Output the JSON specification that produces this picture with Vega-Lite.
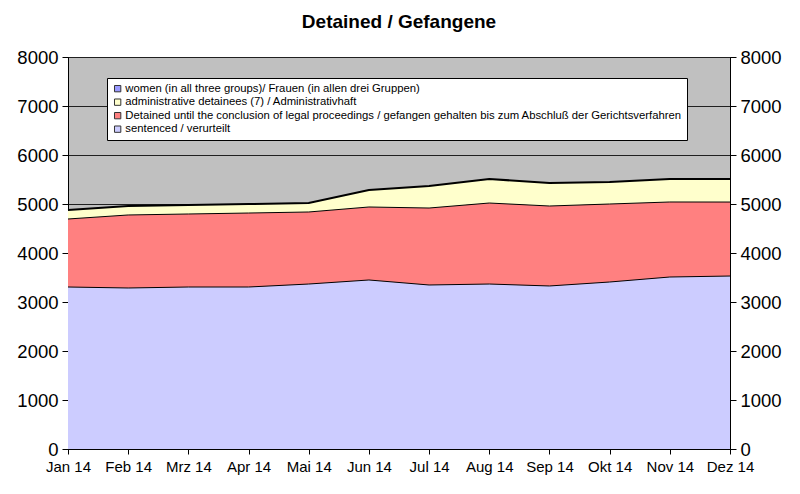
{
  "$schema": "https://vega.github.io/schema/vega-lite/v6.json",
  "autosize": {"type": "none"},
  "padding": {"left": 68, "top": 57, "right": 70, "bottom": 45},
  "width": 662,
  "height": 392,
  "background": "white",
  "config": {
    "font": "Liberation Sans",
    "view": {"fill": "#C0C0C0", "stroke": "#000000", "strokeWidth": 1}
  },
  "title": {
    "text": "Detained / Gefangene",
    "fontSize": 19,
    "fontWeight": "bold",
    "font": "Liberation Sans",
    "color": "#000000",
    "offset": 16
  },
  "data": {
    "values": [
      {"month": "Jan 14", "series": "sentenced / verurteilt", "k": 1, "v": 3306},
      {"month": "Feb 14", "series": "sentenced / verurteilt", "k": 1, "v": 3286},
      {"month": "Mrz 14", "series": "sentenced / verurteilt", "k": 1, "v": 3306},
      {"month": "Apr 14", "series": "sentenced / verurteilt", "k": 1, "v": 3306},
      {"month": "Mai 14", "series": "sentenced / verurteilt", "k": 1, "v": 3367},
      {"month": "Jun 14", "series": "sentenced / verurteilt", "k": 1, "v": 3449},
      {"month": "Jul 14", "series": "sentenced / verurteilt", "k": 1, "v": 3347},
      {"month": "Aug 14", "series": "sentenced / verurteilt", "k": 1, "v": 3367},
      {"month": "Sep 14", "series": "sentenced / verurteilt", "k": 1, "v": 3327},
      {"month": "Okt 14", "series": "sentenced / verurteilt", "k": 1, "v": 3408},
      {"month": "Nov 14", "series": "sentenced / verurteilt", "k": 1, "v": 3510},
      {"month": "Dez 14", "series": "sentenced / verurteilt", "k": 1, "v": 3530},
      {"month": "Jan 14", "series": "Detained until the conclusion of legal proceedings / gefangen gehalten bis zum Abschluß der Gerichtsverfahren", "k": 2, "v": 1388},
      {"month": "Feb 14", "series": "Detained until the conclusion of legal proceedings / gefangen gehalten bis zum Abschluß der Gerichtsverfahren", "k": 2, "v": 1490},
      {"month": "Mrz 14", "series": "Detained until the conclusion of legal proceedings / gefangen gehalten bis zum Abschluß der Gerichtsverfahren", "k": 2, "v": 1490},
      {"month": "Apr 14", "series": "Detained until the conclusion of legal proceedings / gefangen gehalten bis zum Abschluß der Gerichtsverfahren", "k": 2, "v": 1510},
      {"month": "Mai 14", "series": "Detained until the conclusion of legal proceedings / gefangen gehalten bis zum Abschluß der Gerichtsverfahren", "k": 2, "v": 1470},
      {"month": "Jun 14", "series": "Detained until the conclusion of legal proceedings / gefangen gehalten bis zum Abschluß der Gerichtsverfahren", "k": 2, "v": 1490},
      {"month": "Jul 14", "series": "Detained until the conclusion of legal proceedings / gefangen gehalten bis zum Abschluß der Gerichtsverfahren", "k": 2, "v": 1571},
      {"month": "Aug 14", "series": "Detained until the conclusion of legal proceedings / gefangen gehalten bis zum Abschluß der Gerichtsverfahren", "k": 2, "v": 1653},
      {"month": "Sep 14", "series": "Detained until the conclusion of legal proceedings / gefangen gehalten bis zum Abschluß der Gerichtsverfahren", "k": 2, "v": 1632},
      {"month": "Okt 14", "series": "Detained until the conclusion of legal proceedings / gefangen gehalten bis zum Abschluß der Gerichtsverfahren", "k": 2, "v": 1592},
      {"month": "Nov 14", "series": "Detained until the conclusion of legal proceedings / gefangen gehalten bis zum Abschluß der Gerichtsverfahren", "k": 2, "v": 1531},
      {"month": "Dez 14", "series": "Detained until the conclusion of legal proceedings / gefangen gehalten bis zum Abschluß der Gerichtsverfahren", "k": 2, "v": 1510},
      {"month": "Jan 14", "series": "administrative detainees (7) / Administrativhaft", "k": 3, "v": 184},
      {"month": "Feb 14", "series": "administrative detainees (7) / Administrativhaft", "k": 3, "v": 183},
      {"month": "Mrz 14", "series": "administrative detainees (7) / Administrativhaft", "k": 3, "v": 184},
      {"month": "Apr 14", "series": "administrative detainees (7) / Administrativhaft", "k": 3, "v": 184},
      {"month": "Mai 14", "series": "administrative detainees (7) / Administrativhaft", "k": 3, "v": 183},
      {"month": "Jun 14", "series": "administrative detainees (7) / Administrativhaft", "k": 3, "v": 346},
      {"month": "Jul 14", "series": "administrative detainees (7) / Administrativhaft", "k": 3, "v": 449},
      {"month": "Aug 14", "series": "administrative detainees (7) / Administrativhaft", "k": 3, "v": 490},
      {"month": "Sep 14", "series": "administrative detainees (7) / Administrativhaft", "k": 3, "v": 470},
      {"month": "Okt 14", "series": "administrative detainees (7) / Administrativhaft", "k": 3, "v": 449},
      {"month": "Nov 14", "series": "administrative detainees (7) / Administrativhaft", "k": 3, "v": 469},
      {"month": "Dez 14", "series": "administrative detainees (7) / Administrativhaft", "k": 3, "v": 470}
    ]
  },
  "encoding": {
    "x": {
      "field": "month",
      "type": "ordinal",
      "sort": null,
      "scale": {"type": "point", "padding": 0},
      "axis": {
        "title": null,
        "labelAngle": 0,
        "labelFontSize": 15,
        "labelColor": "#000000",
        "labelFont": "Liberation Sans",
        "domainColor": "#000000",
        "tickColor": "#000000",
        "tickSize": 5,
        "labelPadding": 5,
        "grid": false
      }
    },
    "order": {"field": "k", "type": "quantitative"}
  },
  "layer": [
    {
      "mark": {"type": "area", "opacity": 1},
      "encoding": {
        "y": {
          "field": "v",
          "type": "quantitative",
          "stack": "zero",
          "scale": {"domain": [0, 8000], "nice": false},
          "axis": {
            "title": null,
            "orient": "left",
            "values": [0, 1000, 2000, 3000, 4000, 5000, 6000, 7000, 8000],
            "format": "d",
            "labelFontSize": 18.5,
            "labelColor": "#000000",
            "labelFont": "Liberation Sans",
            "domainColor": "#000000",
            "tickColor": "#000000",
            "tickSize": 6,
            "labelPadding": 4,
            "grid": true,
            "gridColor": "#202020",
            "gridWidth": 1
          }
        },
        "color": {
          "field": "series",
          "type": "nominal",
          "scale": {
            "domain": [
              "women (in all three groups)/ Frauen (in allen drei Gruppen)",
              "administrative detainees (7) / Administrativhaft",
              "Detained until the conclusion of legal proceedings / gefangen gehalten bis zum Abschluß der Gerichtsverfahren",
              "sentenced / verurteilt"
            ],
            "range": ["#9999FF", "#FFFFCC", "#FF8080", "#CCCCFF"]
          },
          "legend": {
            "title": null,
            "orient": "none",
            "legendX": 39,
            "legendY": 21,
            "fillColor": "#FFFFFF",
            "strokeColor": "#000000",
            "padding": 5,
            "symbolType": "square",
            "symbolSize": 40,
            "symbolStrokeColor": "#333333",
            "symbolStrokeWidth": 1,
            "labelFontSize": 11.3,
            "labelFont": "Liberation Sans",
            "labelColor": "#000000",
            "labelLimit": 700,
            "labelOffset": 2,
            "rowPadding": 1.5
          }
        }
      }
    },
    {
      "mark": {"type": "line", "color": "#000000"},
      "encoding": {
        "detail": {"field": "series", "type": "nominal"},
        "strokeWidth": {"condition": {"test": "datum.k == 3", "value": 2}, "value": 1},
        "y": {
          "field": "v",
          "type": "quantitative",
          "stack": "zero",
          "scale": {"domain": [0, 8000], "nice": false},
          "axis": {
            "title": null,
            "orient": "right",
            "values": [0, 1000, 2000, 3000, 4000, 5000, 6000, 7000, 8000],
            "format": "d",
            "labelFontSize": 18.5,
            "labelColor": "#000000",
            "labelFont": "Liberation Sans",
            "domainColor": "#000000",
            "tickColor": "#000000",
            "tickSize": 6,
            "labelPadding": 4,
            "grid": false
          }
        }
      }
    }
  ],
  "resolve": {"axis": {"y": "independent"}}
}
